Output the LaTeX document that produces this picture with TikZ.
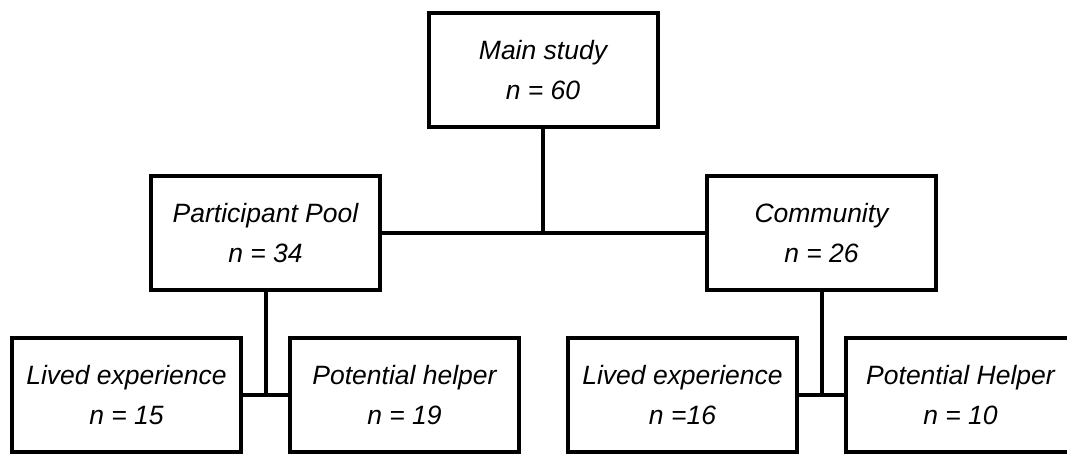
\documentclass[tikz,border=0pt]{standalone}
\usepackage{fontspec}
\setmainfont{Liberation Sans}
\usetikzlibrary{calc}

\begin{document}
\begin{tikzpicture}[x=1pt,y=-1pt,
    box/.style={draw,line width=4pt,minimum width=229pt,minimum height=114pt,
      align=center,font=\itshape\fontsize{26.5}{39.5}\selectfont},
    link/.style={line width=4pt}]
  \clip (0,0) rectangle (1067,454);
  \fill[white] (0,0) rectangle (1067,454);
  % top and middle row
  \node[box] (main) at (543,70) {Main study\\n = 60};
  \node[box] (pool) at (265.5,233) {Participant Pool\\n = 34};
  \node[box] (comm) at (821.5,233) {Community\\n = 26};
  % bottom row
  \node[box] (livedA) at ($(pool)+(-139,162)$) {Lived experience\\n = 15};
  \node[box] (helperA) at ($(pool)+(139,162)$) {Potential helper\\n = 19};
  \node[box] (livedB) at ($(comm)+(-139,162)$) {Lived experience\\n =16};
  \node[box] (helperB) at ($(comm)+(139,162)$) {Potential Helper\\n = 10};
  % connectors
  \draw[link] (main.south) -- (main.south |- pool.east);
  \draw[link] (pool.east) -- (comm.west);
  \foreach \p/\l/\h in {pool/livedA/helperA,comm/livedB/helperB} {
    \draw[link] (\p.south) -- (\p.south |- \l.east);
    \draw[link] (\l.east) -- (\h.west);
  }
\end{tikzpicture}
\end{document}
